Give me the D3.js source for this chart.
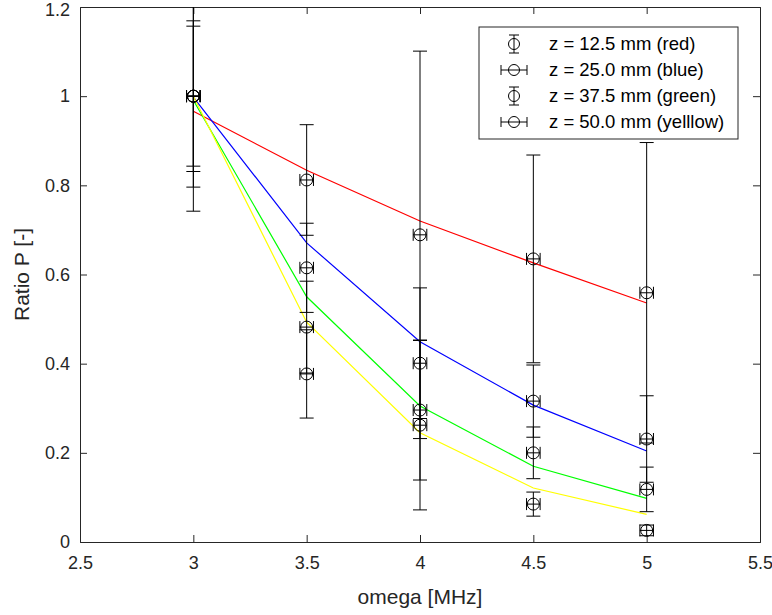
<!DOCTYPE html>
<html>
<head>
<meta charset="utf-8">
<script src="https://cdn.jsdelivr.net/npm/d3@7"></script>
<style>
  html, body { margin: 0; padding: 0; background: #fff; }
  svg { display: block; font-family: "Liberation Sans", Arial, Helvetica, sans-serif; }
</style>
</head>
<body>
<svg id="chart" width="772" height="615"></svg>
<script>
// ---- data ----
const omega = [3, 3.5, 4, 4.5, 5];
const xTicks = [2.5, 3, 3.5, 4, 4.5, 5, 5.5];
const yTicks = [0, 0.2, 0.4, 0.6, 0.8, 1, 1.2];
const seriesNames = ["z = 12.5 mm (red)", "z = 25.0 mm (blue)", "z = 37.5 mm (green)", "z = 50.0 mm (yelllow)"];
const seriesColors = ["#ff0000", "#0000ff", "#00ff00", "#ffff00"];

// measured ratio P (black circles)
const redP    = [1.0, 0.812, 0.689, 0.635, 0.559];
const blueP   = [1.0, 0.615, 0.401, 0.316, 0.231];
const greenP  = [1.0, 0.482, 0.296, 0.200, 0.118];
const yellowP = [1.0, 0.377, 0.262, 0.085, 0.026];

// vertical error (half-width)
const redErr    = [0.258, 0.124, 0.412, 0.233, 0.337];
const blueErr   = [0.157, 0.100, 0.169, 0.081, 0.097];
const greenErr  = [0.169, 0.103, 0.157, 0.058, 0.050];
const yellowErr = [0.204, 0.099, 0.190, 0.027, 0.012];

// horizontal error (half-width, MHz)
const omegaErr = [0.03, 0.03, 0.03, 0.03, 0.03];

// model curves (coloured lines)
const redFit    = [0.966, 0.834, 0.720, 0.626, 0.536];
const blueFit   = [0.998, 0.671, 0.449, 0.307, 0.204];
const greenFit  = [0.991, 0.550, 0.305, 0.170, 0.098];
const yellowFit = [1.000, 0.493, 0.245, 0.121, 0.062];

const pointsAll = [redP, blueP, greenP, yellowP];
const errAll = [redErr, blueErr, greenErr, yellowErr];
const fitAll = [redFit, blueFit, greenFit, yellowFit];

// ---- layout ----
const L = 80, R = 760, T = 7, B = 542;
const axisColor = "#262626";
const tickFont = 18;

const svg = d3.select("#chart");
const x = d3.scaleLinear().domain([2.5, 5.5]).range([L, R]);
const y = d3.scaleLinear().domain([0, 1.2]).range([B, T]);

svg.append("defs").append("clipPath").attr("id", "clip")
  .append("rect").attr("x", L).attr("y", T).attr("width", R - L).attr("height", B - T);

const fmt = d => (d === 0 ? "0" : String(d));

// axes
const gx = svg.append("g").attr("transform", `translate(0,${B})`)
  .call(d3.axisBottom(x).tickValues(xTicks).tickFormat(fmt).tickSize(-7).tickPadding(14));
const gxTop = svg.append("g").attr("transform", `translate(0,${T})`)
  .call(d3.axisTop(x).tickValues(xTicks).tickFormat("").tickSize(-7));
const gy = svg.append("g").attr("transform", `translate(${L},0)`)
  .call(d3.axisLeft(y).tickValues(yTicks).tickFormat(fmt).tickSize(-7).tickPadding(10));
const gyR = svg.append("g").attr("transform", `translate(${R},0)`)
  .call(d3.axisRight(y).tickValues(yTicks).tickFormat("").tickSize(-7));

[gx, gxTop, gy, gyR].forEach(g => {
  g.select(".domain").attr("stroke", axisColor).attr("stroke-width", 1);
  g.selectAll(".tick line").attr("stroke", axisColor);
  g.selectAll(".tick text").attr("fill", axisColor).attr("font-size", tickFont)
    .attr("font-family", "Liberation Sans, Arial, sans-serif");
});
// ticks at the box ends coincide with the frame
[gx, gxTop].forEach(g => g.selectAll(".tick line").filter(d => d === 2.5 || d === 5.5).remove());
[gy, gyR].forEach(g => g.selectAll(".tick line").filter(d => d === 0 || d === 1.2).remove());
// keep the top y label inside the picture
gy.selectAll(".tick text").filter(d => d === 1.2).attr("dy", "0.45em");

// axis labels
svg.append("text").attr("x", (L + R) / 2).attr("y", 604).attr("text-anchor", "middle")
  .attr("font-size", 21).attr("fill", axisColor).text("omega [MHz]");
svg.append("text").attr("transform", `translate(29,${(T + B) / 2}) rotate(-90)`)
  .attr("text-anchor", "middle").attr("font-size", 21).attr("fill", axisColor).text("Ratio P [-]");

const plot = svg.append("g").attr("clip-path", "url(#clip)");

// coloured model lines
const line = d3.line().x((d, i) => x(omega[i])).y(d => y(d));
fitAll.forEach((f, s) => {
  plot.append("path").datum(f).attr("d", line).attr("fill", "none")
    .attr("stroke", seriesColors[s]).attr("stroke-width", 1.2);
});

// error bars + markers
const capV = 7;   // half width of vertical bar caps
const capH = 6;   // half height of horizontal bar caps
const rMark = 6;
pointsAll.forEach((pts, s) => {
  const err = errAll[s];
  const g = plot.append("g").attr("stroke", "#000").attr("stroke-width", 1).attr("fill", "none");
  pts.forEach((p, i) => {
    const cx = x(omega[i]);
    const yHi = y(p + err[i]), yLo = y(p - err[i]), cy = y(p);
    g.append("line").attr("x1", cx).attr("x2", cx).attr("y1", yHi).attr("y2", yLo);
    g.append("line").attr("x1", cx - capV).attr("x2", cx + capV).attr("y1", yHi).attr("y2", yHi);
    g.append("line").attr("x1", cx - capV).attr("x2", cx + capV).attr("y1", yLo).attr("y2", yLo);
    const xl = x(omega[i] - omegaErr[i]), xr = x(omega[i] + omegaErr[i]);
    g.append("line").attr("x1", xl).attr("x2", xr).attr("y1", cy).attr("y2", cy);
    g.append("line").attr("x1", xl).attr("x2", xl).attr("y1", cy - capH).attr("y2", cy + capH);
    g.append("line").attr("x1", xr).attr("x2", xr).attr("y1", cy - capH).attr("y2", cy + capH);
    g.append("circle").attr("cx", cx).attr("cy", cy).attr("r", rMark);
  });
});

// legend
const lg = svg.append("g");
const lx = 479, ly = 27, lw = 259, lh = 112;
lg.append("rect").attr("x", lx).attr("y", ly).attr("width", lw).attr("height", lh)
  .attr("fill", "#fff").attr("stroke", axisColor).attr("stroke-width", 1);
seriesNames.forEach((name, s) => {
  const cy = ly + 17 + s * 26;
  const cx = 514;
  const ic = lg.append("g").attr("stroke", "#000").attr("fill", "none").attr("stroke-width", 1);
  if (s % 2 === 0) {
    ic.append("line").attr("x1", cx).attr("x2", cx).attr("y1", cy - 9).attr("y2", cy + 9);
    ic.append("line").attr("x1", cx - 5).attr("x2", cx + 5).attr("y1", cy - 9).attr("y2", cy - 9);
    ic.append("line").attr("x1", cx - 5).attr("x2", cx + 5).attr("y1", cy + 9).attr("y2", cy + 9);
  } else {
    ic.append("line").attr("x1", cx - 13).attr("x2", cx + 13).attr("y1", cy).attr("y2", cy);
    ic.append("line").attr("x1", cx - 13).attr("x2", cx - 13).attr("y1", cy - 5).attr("y2", cy + 5);
    ic.append("line").attr("x1", cx + 13).attr("x2", cx + 13).attr("y1", cy - 5).attr("y2", cy + 5);
  }
  ic.append("circle").attr("cx", cx).attr("cy", cy).attr("r", 5.5);
  lg.append("text").attr("x", 549).attr("y", cy).attr("dy", "0.35em")
    .attr("font-size", 18.5).attr("fill", "#000").text(name);
});
</script>
</body>
</html>
